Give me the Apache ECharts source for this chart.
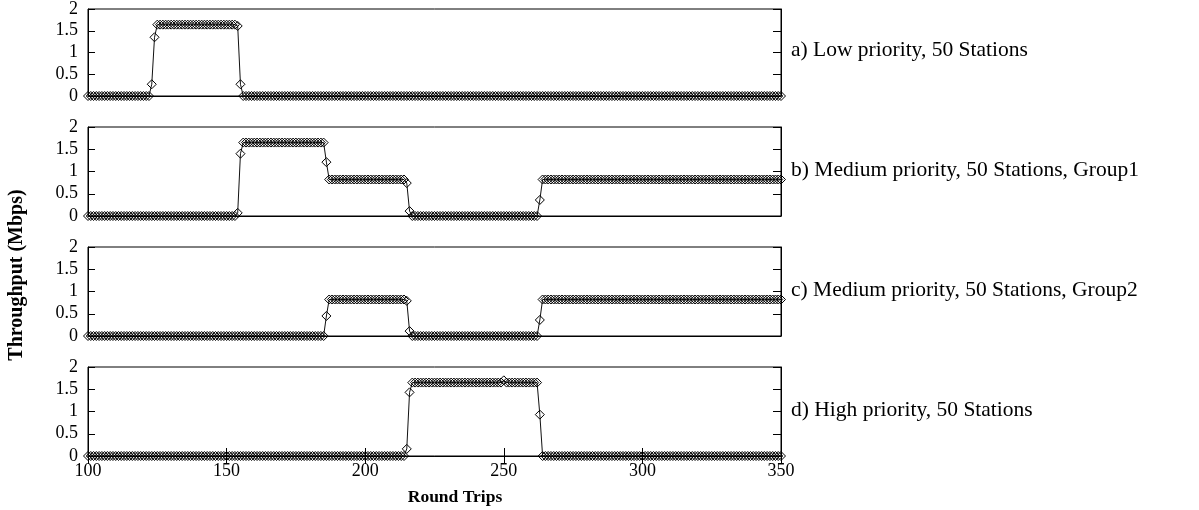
<!DOCTYPE html>
<html>
<head>
<meta charset="utf-8">
<script src="https://cdn.jsdelivr.net/npm/echarts@6/dist/echarts.min.js"></script>
<style>
html,body{margin:0;padding:0;background:#fff;}
#chart{width:1199px;height:510px;}
</style>
</head>
<body>
<div id="chart"></div>
<script>
const roundTrips = [
100,101,102,103,104,105,106,107,108,109,
110,111,112,113,114,115,116,117,118,119,
120,121,122,123,124,125,126,127,128,129,
130,131,132,133,134,135,136,137,138,139,
140,141,142,143,144,145,146,147,148,149,
150,151,152,153,154,155,156,157,158,159,
160,161,162,163,164,165,166,167,168,169,
170,171,172,173,174,175,176,177,178,179,
180,181,182,183,184,185,186,187,188,189,
190,191,192,193,194,195,196,197,198,199,
200,201,202,203,204,205,206,207,208,209,
210,211,212,213,214,215,216,217,218,219,
220,221,222,223,224,225,226,227,228,229,
230,231,232,233,234,235,236,237,238,239,
240,241,242,243,244,245,246,247,248,249,
250,251,252,253,254,255,256,257,258,259,
260,261,262,263,264,265,266,267,268,269,
270,271,272,273,274,275,276,277,278,279,
280,281,282,283,284,285,286,287,288,289,
290,291,292,293,294,295,296,297,298,299,
300,301,302,303,304,305,306,307,308,309,
310,311,312,313,314,315,316,317,318,319,
320,321,322,323,324,325,326,327,328,329,
330,331,332,333,334,335,336,337,338,339,
340,341,342,343,344,345,346,347,348,349,
350];

const lowPriority = [
0,0,0,0,0,0,0,0,0,0,
0,0,0,0,0,0,0,0,0,0,
0,0,0,0.27,1.35,1.64,1.64,1.64,1.64,1.64,
1.64,1.64,1.64,1.64,1.64,1.64,1.64,1.64,1.64,1.64,
1.64,1.64,1.64,1.64,1.64,1.64,1.64,1.64,1.64,1.64,
1.64,1.64,1.64,1.64,1.61,0.27,0,0,0,0,
0,0,0,0,0,0,0,0,0,0,
0,0,0,0,0,0,0,0,0,0,
0,0,0,0,0,0,0,0,0,0,
0,0,0,0,0,0,0,0,0,0,
0,0,0,0,0,0,0,0,0,0,
0,0,0,0,0,0,0,0,0,0,
0,0,0,0,0,0,0,0,0,0,
0,0,0,0,0,0,0,0,0,0,
0,0,0,0,0,0,0,0,0,0,
0,0,0,0,0,0,0,0,0,0,
0,0,0,0,0,0,0,0,0,0,
0,0,0,0,0,0,0,0,0,0,
0,0,0,0,0,0,0,0,0,0,
0,0,0,0,0,0,0,0,0,0,
0,0,0,0,0,0,0,0,0,0,
0,0,0,0,0,0,0,0,0,0,
0,0,0,0,0,0,0,0,0,0,
0,0,0,0,0,0,0,0,0,0,
0,0,0,0,0,0,0,0,0,0,
0];

const mediumGroup1 = [
0,0,0,0,0,0,0,0,0,0,
0,0,0,0,0,0,0,0,0,0,
0,0,0,0,0,0,0,0,0,0,
0,0,0,0,0,0,0,0,0,0,
0,0,0,0,0,0,0,0,0,0,
0,0,0,0,0.07,1.4,1.65,1.65,1.65,1.65,
1.65,1.65,1.65,1.65,1.65,1.65,1.65,1.65,1.65,1.65,
1.65,1.65,1.65,1.65,1.65,1.65,1.65,1.65,1.65,1.65,
1.65,1.65,1.65,1.65,1.65,1.65,1.21,0.82,0.82,0.82,
0.82,0.82,0.82,0.82,0.82,0.82,0.82,0.82,0.82,0.82,
0.82,0.82,0.82,0.82,0.82,0.82,0.82,0.82,0.82,0.82,
0.82,0.82,0.82,0.82,0.82,0.74,0.11,0,0,0,
0,0,0,0,0,0,0,0,0,0,
0,0,0,0,0,0,0,0,0,0,
0,0,0,0,0,0,0,0,0,0,
0,0,0,0,0,0,0,0,0,0,
0,0,0,0.36,0.82,0.82,0.82,0.82,0.82,0.82,
0.82,0.82,0.82,0.82,0.82,0.82,0.82,0.82,0.82,0.82,
0.82,0.82,0.82,0.82,0.82,0.82,0.82,0.82,0.82,0.82,
0.82,0.82,0.82,0.82,0.82,0.82,0.82,0.82,0.82,0.82,
0.82,0.82,0.82,0.82,0.82,0.82,0.82,0.82,0.82,0.82,
0.82,0.82,0.82,0.82,0.82,0.82,0.82,0.82,0.82,0.82,
0.82,0.82,0.82,0.82,0.82,0.82,0.82,0.82,0.82,0.82,
0.82,0.82,0.82,0.82,0.82,0.82,0.82,0.82,0.82,0.82,
0.82,0.82,0.82,0.82,0.82,0.82,0.82,0.82,0.82,0.82,
0.82];

const mediumGroup2 = [
0,0,0,0,0,0,0,0,0,0,
0,0,0,0,0,0,0,0,0,0,
0,0,0,0,0,0,0,0,0,0,
0,0,0,0,0,0,0,0,0,0,
0,0,0,0,0,0,0,0,0,0,
0,0,0,0,0,0,0,0,0,0,
0,0,0,0,0,0,0,0,0,0,
0,0,0,0,0,0,0,0,0,0,
0,0,0,0,0,0,0.45,0.82,0.82,0.82,
0.82,0.82,0.82,0.82,0.82,0.82,0.82,0.82,0.82,0.82,
0.82,0.82,0.82,0.82,0.82,0.82,0.82,0.82,0.82,0.82,
0.82,0.82,0.82,0.82,0.82,0.79,0.11,0,0,0,
0,0,0,0,0,0,0,0,0,0,
0,0,0,0,0,0,0,0,0,0,
0,0,0,0,0,0,0,0,0,0,
0,0,0,0,0,0,0,0,0,0,
0,0,0,0.36,0.82,0.82,0.82,0.82,0.82,0.82,
0.82,0.82,0.82,0.82,0.82,0.82,0.82,0.82,0.82,0.82,
0.82,0.82,0.82,0.82,0.82,0.82,0.82,0.82,0.82,0.82,
0.82,0.82,0.82,0.82,0.82,0.82,0.82,0.82,0.82,0.82,
0.82,0.82,0.82,0.82,0.82,0.82,0.82,0.82,0.82,0.82,
0.82,0.82,0.82,0.82,0.82,0.82,0.82,0.82,0.82,0.82,
0.82,0.82,0.82,0.82,0.82,0.82,0.82,0.82,0.82,0.82,
0.82,0.82,0.82,0.82,0.82,0.82,0.82,0.82,0.82,0.82,
0.82,0.82,0.82,0.82,0.82,0.82,0.82,0.82,0.82,0.82,
0.82];

const highPriority = [
0,0,0,0,0,0,0,0,0,0,
0,0,0,0,0,0,0,0,0,0,
0,0,0,0,0,0,0,0,0,0,
0,0,0,0,0,0,0,0,0,0,
0,0,0,0,0,0,0,0,0,0,
0,0,0,0,0,0,0,0,0,0,
0,0,0,0,0,0,0,0,0,0,
0,0,0,0,0,0,0,0,0,0,
0,0,0,0,0,0,0,0,0,0,
0,0,0,0,0,0,0,0,0,0,
0,0,0,0,0,0,0,0,0,0,
0,0,0,0,0,0.16,1.43,1.65,1.65,1.65,
1.65,1.65,1.65,1.65,1.65,1.65,1.65,1.65,1.65,1.65,
1.65,1.65,1.65,1.65,1.65,1.65,1.65,1.65,1.65,1.65,
1.65,1.65,1.65,1.65,1.65,1.65,1.65,1.65,1.65,1.65,
1.7,1.65,1.65,1.65,1.65,1.65,1.65,1.65,1.65,1.65,
1.65,1.65,1.65,0.93,0,0,0,0,0,0,
0,0,0,0,0,0,0,0,0,0,
0,0,0,0,0,0,0,0,0,0,
0,0,0,0,0,0,0,0,0,0,
0,0,0,0,0,0,0,0,0,0,
0,0,0,0,0,0,0,0,0,0,
0,0,0,0,0,0,0,0,0,0,
0,0,0,0,0,0,0,0,0,0,
0,0,0,0,0,0,0,0,0,0,
0];

const panelLabels = [
  'a) Low priority, 50 Stations',
  'b) Medium priority, 50 Stations, Group1',
  'c) Medium priority, 50 Stations, Group2',
  'd) High priority, 50 Stations'
];
const xTicks = { min: 100, max: 350, step: 50 };
const yTicks = { min: 0, max: 2, step: 0.5 };
const xTitle = 'Round Trips';
const yTitle = 'Throughput (Mbps)';

const seriesValues = [lowPriority, mediumGroup1, mediumGroup2, highPriority];

const FONT = "'Liberation Serif', 'Times New Roman', serif";
const panelTops = [7, 127, 247, 367];
const panelH = 89;
const leftPx = 88, rightPx = 1199 - 781;

const grids = [], xAxes = [], yAxes = [], series = [], graphics = [];

panelTops.forEach((top, i) => {
  const last = i === 3;
  grids.push({ left: leftPx, right: rightPx, top: top, height: panelH,
    show: true, borderColor: '#000', borderWidth: 1, backgroundColor: 'transparent' });
  xAxes.push({
    gridIndex: i, type: 'value', min: xTicks.min, max: xTicks.max, interval: xTicks.step,
    position: 'bottom',
    axisLine: { show: true, lineStyle: { color: '#000', width: 1 } },
    splitLine: { show: false },
    axisTick: { show: last, inside: true, length: 8, lineStyle: { color: '#000' } },
    axisLabel: { show: last, color: '#000', fontFamily: FONT, fontSize: 18, margin: 6 }
  });
  if (last) {
    xAxes.push({
      gridIndex: i, type: 'value', min: xTicks.min, max: xTicks.max, interval: xTicks.step,
      position: 'top',
      axisLine: { show: true, lineStyle: { color: '#000', width: 1 } },
      splitLine: { show: false },
      axisTick: { show: true, inside: true, length: 8, lineStyle: { color: '#000' } },
      axisLabel: { show: false }
    });
  }
  yAxes.push({
    gridIndex: i, type: 'value', min: yTicks.min, max: yTicks.max, interval: yTicks.step,
    position: 'left',
    axisLine: { show: true, lineStyle: { color: '#000', width: 1 } },
    splitLine: { show: false },
    axisTick: { show: true, inside: true, length: 7, lineStyle: { color: '#000' } },
    axisLabel: { color: '#000', fontFamily: FONT, fontSize: 18, margin: 10 }
  });
  yAxes.push({
    gridIndex: i, type: 'value', min: yTicks.min, max: yTicks.max, interval: yTicks.step,
    position: 'right',
    axisLine: { show: true, lineStyle: { color: '#000', width: 1 } },
    splitLine: { show: false },
    axisTick: { show: true, inside: true, length: 8, lineStyle: { color: '#000' } },
    axisLabel: { show: false }
  });
  series.push({
    type: 'line',
    xAxisIndex: i === 3 ? 3 : i,
    yAxisIndex: i * 2,
    data: roundTrips.map((r, k) => [r, seriesValues[i][k]]),
    symbol: 'diamond',
    symbolSize: [9, 9],
    showSymbol: true,
    clip: false,
    itemStyle: { color: 'rgba(255,255,255,0)', borderColor: '#000', borderWidth: 1 },
    lineStyle: { color: '#111', width: 1 },
    emphasis: { disabled: true },
    animation: false
  });
  graphics.push({
    type: 'text', left: 791, top: top + panelH / 2 - 12,
    style: { text: panelLabels[i], font: "21.5px " + FONT, fill: '#000' }
  });
});

graphics.push({
  type: 'text', x: 17, y: 275, rotation: Math.PI / 2,
  style: { text: yTitle, font: "bold 20px " + FONT, fill: '#000', align: 'center', verticalAlign: 'middle' }
});
graphics.push({
  type: 'text', x: 455, y: 497,
  style: { text: xTitle, font: "bold 17.5px " + FONT, fill: '#000', align: 'center', verticalAlign: 'middle' }
});

const chart = echarts.init(document.getElementById('chart'), null, { renderer: 'canvas' });
chart.setOption({
  animation: false,
  backgroundColor: '#fff',
  grid: grids,
  xAxis: xAxes,
  yAxis: yAxes,
  series: series,
  graphic: graphics
});
</script>
</body>
</html>
